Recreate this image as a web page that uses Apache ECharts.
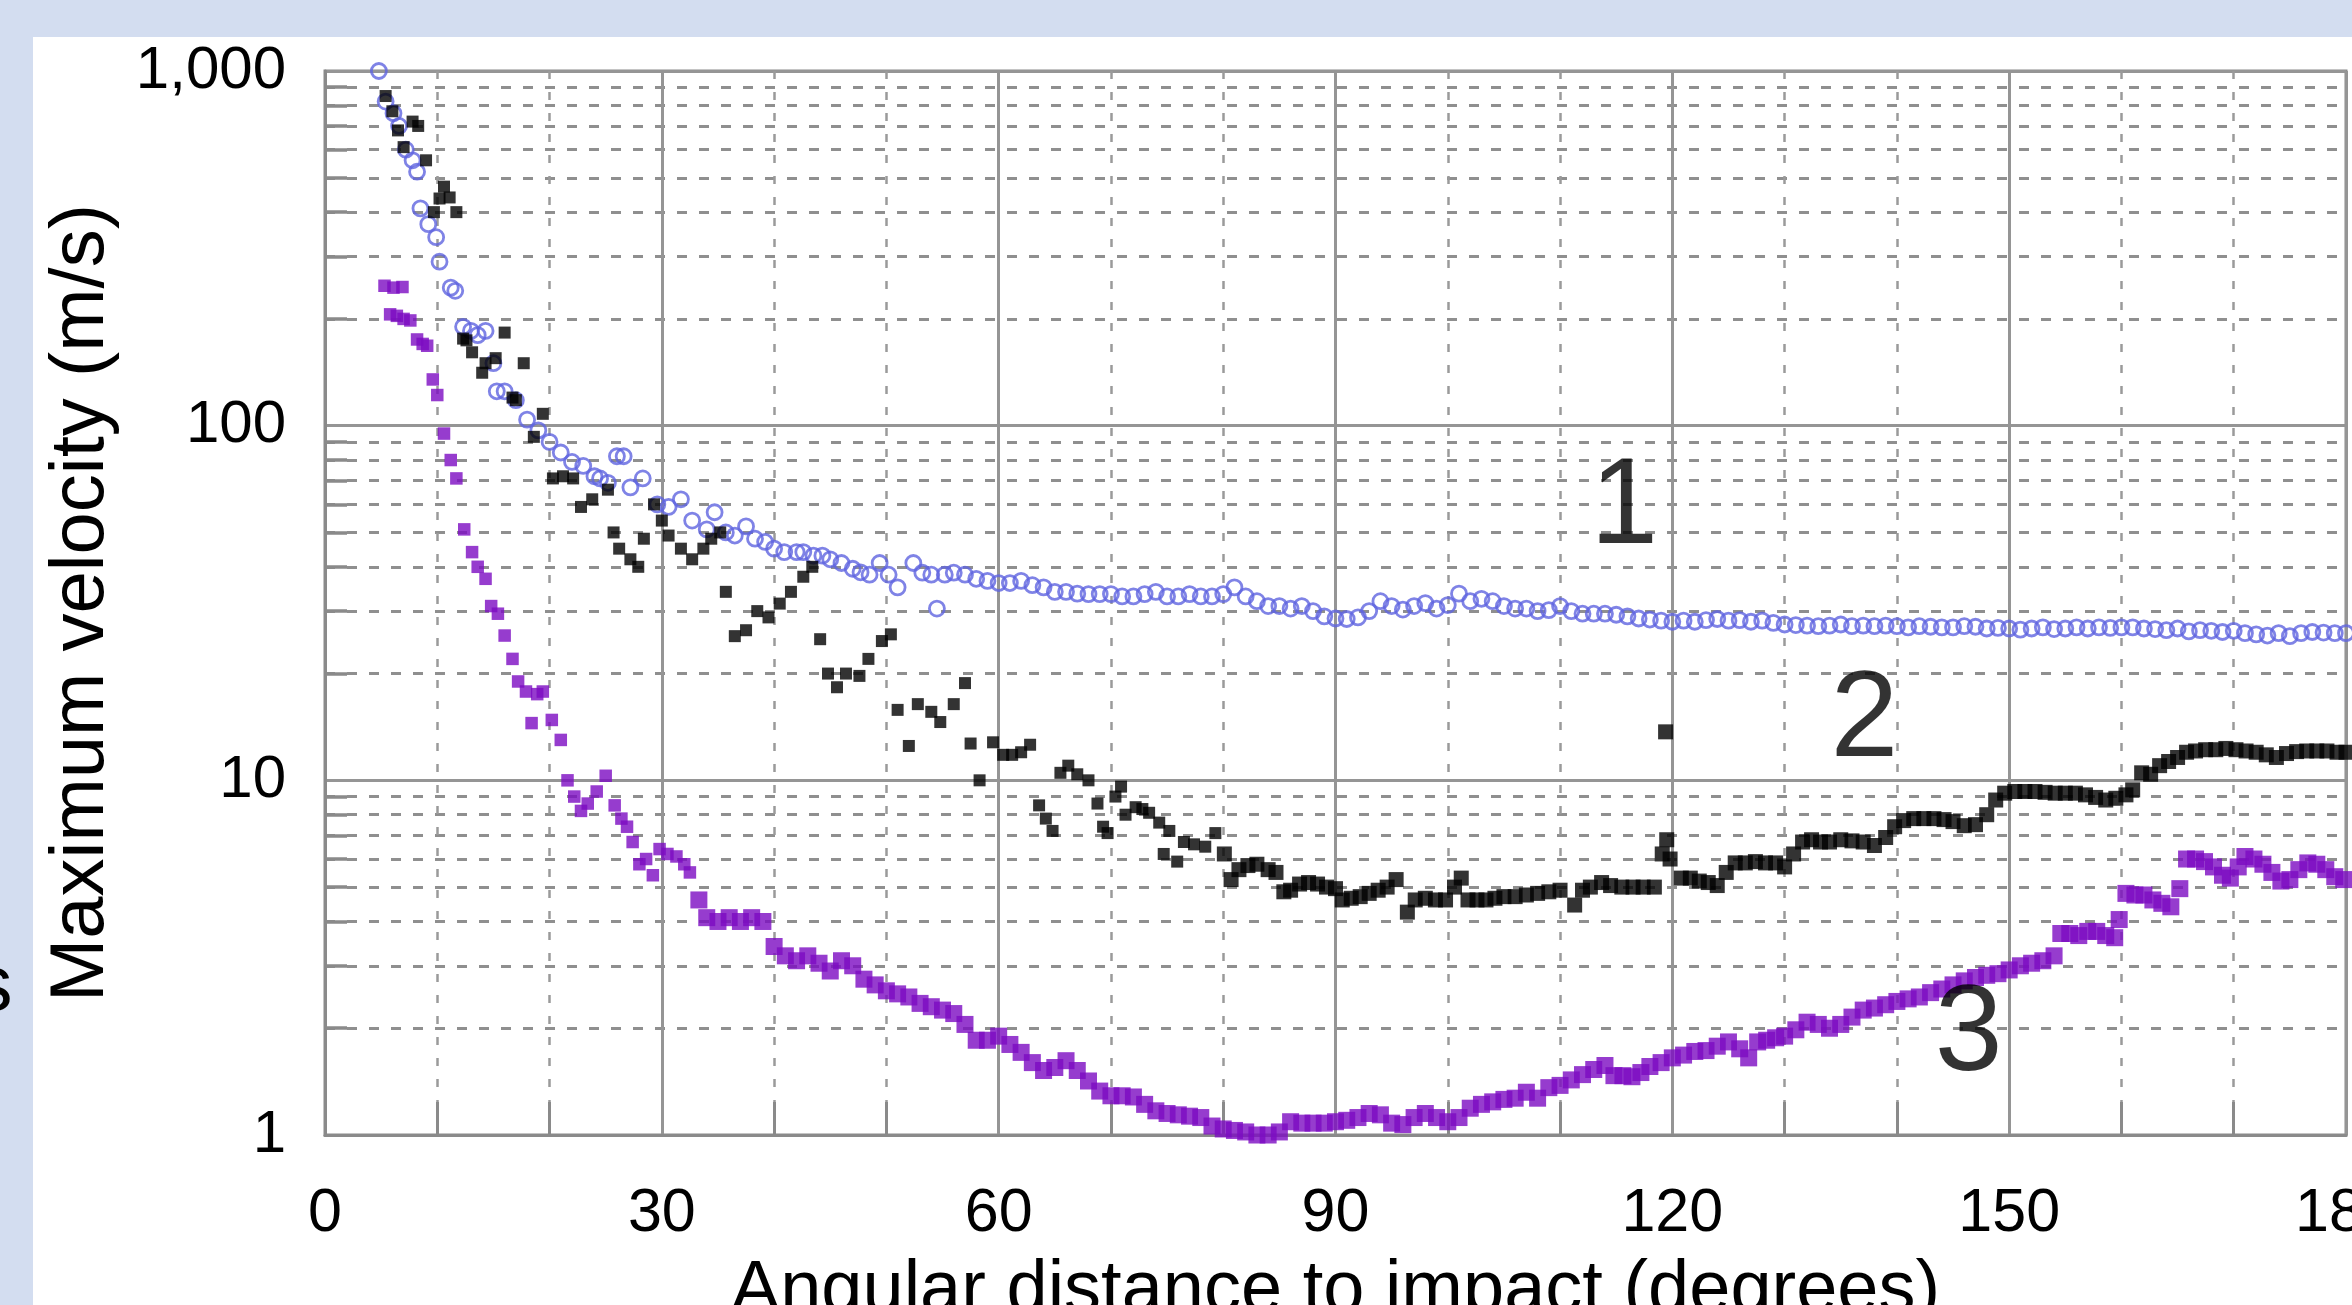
<!DOCTYPE html>
<html><head><meta charset="utf-8">
<script src="https://cdn.jsdelivr.net/npm/echarts@6/dist/echarts.min.js"></script>
<style>
html,body{margin:0;padding:0;width:2352px;height:1305px;overflow:hidden;background:#d3ddf0;}
#panel{position:absolute;left:33px;top:37px;right:0;bottom:0;background:#ffffff;}
#chart{position:absolute;left:0;top:0;width:2352px;height:1305px;}
</style></head>
<body><div id="panel"></div><div id="chart"></div>
<script>
// ---- axis ticks / labels ----
const xTickLabels = ['0', '30', '60', '90', '120', '150', '180'];
const yTickValues = [1, 10, 100, 1000];
const yTickLabels = ['1', '10', '100', '1,000'];
const xAxisTitle = 'Angular distance to impact (degrees)';
const yAxisTitle = 'Maximum velocity (m/s)';

// ---- series 1 (blue open circles): [degrees, m/s] ----
const series1Points = [
[4.8,1000],[5.4,820],[6.1,760],[6.6,700],[7.2,600],[7.8,560],[8.2,520],[8.5,410],[9.2,370],[9.9,340],[10.2,290],
[11.2,245],[11.6,240],[12.3,190],[13.0,185],[13.6,180],[14.3,185],[15.0,150],[15.3,125],[16.0,125],[17.0,118],
[18.0,104],[19.0,97],[20.0,90],[21.0,84],[22.0,79],[23.0,77],[24.0,72],[24.5,71],[25.2,69],[26.0,82],[26.6,82],
[27.2,67],[28.3,71],[29.6,60],[30.6,59],[31.7,62],[32.7,54],[34.0,51],[34.7,57],[35.7,50],[36.5,49],[37.5,52],
[38.3,48],[39.2,47],[40.0,45],[40.9,44],[42.0,44],[42.6,44],[43.5,43],[44.3,43],[45.0,42],[46.0,41],[47.0,39.5],
[47.7,38.6],[48.5,38],[49.4,41],[50.2,38],[51.0,35],[52.4,41],[53.2,38.5],[54.0,38],[54.5,30.5],[55.2,38],[56.0,38.5],
[57.0,38],[58.0,37],[59.0,36.5],[60.0,36],[61.0,36],[62.0,36.5],[63.0,35.5],[64.0,35],[65.0,34],[66.0,34],[67.0,33.6],
[68.0,33.5],[69.0,33.5],[70.0,33.5],[71.0,33],[72.0,33],[73.0,33.5],[74.0,34],[75.0,33],[76.0,33],[77.0,33.5],
[78.0,33],[79.0,33],[80.0,33.5],[81.0,35],[82.0,33],[83.0,32],[84.0,31],[85.0,31],[86.0,30.5],[87.0,31],[88.0,30],
[89.0,29],[90.0,28.6],[91.0,28.5],[92.0,28.8],[93.0,30],[94.0,32],[95.0,31],[96.0,30.3],[97.0,31],[98.0,31.6],
[99.0,30.5],[100.0,31.2],[101.0,33.6],[102.0,32],[103.0,32.5],[104.0,32],[105.0,31],[106.0,30.5],[107.0,30.5],
[108.0,30],[109.0,30.2],[110.0,31],[111.0,30],[112.0,29.5],[113.0,29.5],[114.0,29.5],[115.0,29.3],[116.0,29],
[117.0,28.6],[118.0,28.4],[119.0,28.2],[120.0,28],[121.0,28.2],[122.0,28],[123.0,28.3],[124.0,28.5],[125.0,28.2],
[126.0,28.3],[127.0,28],[128.0,28.2],[129.0,27.8],[130.0,27.5],[131.0,27.4],[132.0,27.3],[133.0,27.2],[134.0,27.3],
[135.0,27.5],[136.0,27.2],[137.0,27.3],[138.0,27.2],[139.0,27.3],[140.0,27.2],[141.0,27],[142.0,27.2],[143.0,27.1],
[144.0,27],[145.0,27],[146.0,27.2],[147.0,27.1],[148.0,26.8],[149.0,26.9],[150.0,26.8],[151.0,26.6],[152.0,26.8],
[153.0,27],[154.0,26.7],[155.0,26.8],[156.0,27],[157.0,26.8],[158.0,27],[159.0,26.9],[160.0,27],[161.0,27],
[162.0,26.8],[163.0,26.7],[164.0,26.5],[165.0,26.8],[166.0,26.3],[167.0,26.5],[168.0,26.4],[169.0,26.2],[170.0,26.4],
[171.0,26],[172.0,25.8],[173.0,25.6],[174.0,26],[175.0,25.5],[176.0,26],[177.0,26.2],[178.0,26.1],[179.0,26],[180.0,26]
];

// ---- series 2 (black dots) ----
const series2Points = [
[5.4,850],[6.0,770],[6.5,680],[7.0,610],[7.8,720],[8.3,700],[9.0,560],[9.7,400],[10.2,437],[10.6,472],[11.1,440],
[11.7,400],[12.3,176],[12.6,174],[13.1,161],[14.0,141],[14.3,150],[15.2,155],[16.0,183],[16.7,120],[17.0,118],
[17.7,150],[18.6,93],[19.4,108],[20.3,71],[21.2,72],[22.1,71],[22.8,59],[23.8,62],[25.2,66],[25.7,50],[26.2,45],
[27.2,42],[27.9,40],[28.4,48],[29.3,60],[30.0,54],[30.6,49],[31.7,45],[32.7,42],[33.7,45],[34.4,48],[35.2,50],
[35.7,34],[36.5,25.5],[37.5,26.5],[38.5,30],[39.5,28.8],[40.5,31.5],[41.5,34],[42.6,37.5],[43.4,40],[44.1,25],
[44.8,20],[45.6,18.3],[46.4,20],[47.6,19.7],[48.4,22],[49.6,24.7],[50.4,25.8],[51.0,15.8],[52.0,12.5],[52.8,16.4],
[54.0,15.6],[54.8,14.6],[56.0,16.4],[57.0,18.8],[57.5,12.7],[58.3,10],[59.5,12.8],[60.4,11.8],[61.2,11.8],[62.0,12.0],
[62.8,12.6],[63.6,8.5],[64.2,7.8],[64.8,7.2],[65.5,10.5],[66.2,11],[67.0,10.4],[68.0,10],[68.8,8.6],[69.3,7.4],[69.7,7.1],
[70.4,9.0],[70.9,9.6],[71.3,8.0],[72.2,8.4],[72.8,8.3],[73.4,8.1],[74.3,7.6],[74.7,6.2],[75.2,7.2],[75.9,5.9],
[76.5,6.7],[77.4,6.6],[78.4,6.5],[79.3,7.1],[80.1,6.2],[80.7,5.25],[81.4,5.6],[82.2,5.75],[83.0,5.8],[84.0,5.6],
[84.7,5.5],[85.4,4.85],[86.0,4.9],[86.8,5.1],[87.6,5.15],[88.4,5.1],[89.2,5.0],[90.0,4.95],[90.6,4.6],[91.4,4.65],
[92.2,4.7],[93.0,4.8],[93.8,4.9],[94.6,5.0],[95.4,5.25],[96.4,4.25],[97.1,4.6],[98.0,4.65],[98.9,4.6],[99.8,4.6],
[100.6,5.0],[101.2,5.3],[101.8,4.6],[102.6,4.6],[103.4,4.6],[104.2,4.65],[105.0,4.7],[106.0,4.7],[107.0,4.75],
[108.0,4.8],[109.0,4.85],[110.0,4.9],[111.3,4.45],[112.0,4.9],[112.7,5.0],[113.7,5.15],[114.5,5.05],[115.5,5.0],
[116.5,5.0],[117.4,5.0],[118.4,5.0],[119.1,6.2],[119.4,13.7],[119.5,6.8],[119.8,6.0],[120.8,5.3],[121.6,5.3],
[122.4,5.2],[123.2,5.15],[124.0,5.05],[124.8,5.5],[125.6,5.85],[126.5,5.85],[127.4,5.9],[128.3,5.85],[129.2,5.85],
[130.0,5.7],[130.8,6.2],[131.6,6.7],[132.4,6.8],[133.2,6.7],[134.0,6.7],[135.0,6.8],[136.0,6.75],[137.0,6.7],
[138.0,6.55],[139.0,6.9],[139.8,7.4],[140.6,7.7],[141.5,7.8],[142.4,7.8],[143.3,7.8],[144.2,7.75],[145.0,7.65],
[146.0,7.45],[147.0,7.5],[148.0,8.0],[148.8,8.8],[149.6,9.2],[150.5,9.3],[151.4,9.3],[152.3,9.3],[153.2,9.25],
[154.1,9.2],[155.0,9.2],[155.9,9.2],[156.8,9.1],[157.7,8.95],[158.6,8.8],[159.5,8.9],[160.4,9.1],[161.0,9.4],
[161.8,10.5],[162.6,10.4],[163.4,11.0],[164.2,11.3],[165.0,11.6],[165.8,12.0],[166.6,12.1],[167.5,12.2],[168.4,12.2],
[169.3,12.3],[170.2,12.2],[171.1,12.1],[172.0,12.0],[172.9,11.8],[173.8,11.6],[174.7,11.9],[175.6,12.05],[176.5,12.1],
[177.4,12.1],[178.3,12.1],[179.2,12.0],[180.0,12.0]
];

// ---- series 3 (purple dots) ----
const series3Points = [
[5.3,248],[6.1,245],[6.9,246],[5.8,206],[6.4,204],[7.0,200],[7.6,198],[8.2,175],[8.7,170],[9.1,168],[9.6,135],
[10.0,122],[10.6,95],[11.2,80],[11.7,71],[12.4,51],[13.1,44],[13.6,40],[14.3,37],[14.8,31],[15.4,29.5],[16.0,25.6],
[16.7,22],[17.2,19],[17.9,17.8],[18.4,14.5],[18.9,17.5],[19.4,17.8],[20.2,14.8],[21.0,13],[21.6,10],[22.2,9.0],
[22.8,8.2],[23.4,8.6],[24.2,9.3],[25.0,10.3],[25.8,8.5],[26.4,7.8],[26.9,7.4],[27.4,6.7],[28.0,5.8],[28.6,6.0],
[29.2,5.4],[29.8,6.4],[30.5,6.2],[31.3,6.1],[32.0,5.8],[32.5,5.5],[33.3,4.6],[34.0,4.1],[35.0,4.0],[36.0,4.1],
[37.0,4.0],[38.0,4.1],[39.0,4.0],[40.0,3.4],[41.0,3.2],[42.0,3.1],[43.0,3.2],[44.0,3.05],[45.0,2.9],[46.0,3.1],
[47.0,3.0],[48.0,2.75],[49.0,2.65],[50.0,2.55],[51.0,2.5],[52.0,2.45],[53.0,2.35],[54.0,2.3],[55.0,2.25],[56.0,2.2],
[57.0,2.05],[58.0,1.85],[59.0,1.85],[60.0,1.9],[61.0,1.8],[62.0,1.71],[63.0,1.6],[64.0,1.52],[65.0,1.55],[66.0,1.62],
[67.0,1.52],[68.0,1.42],[69.0,1.33],[70.0,1.29],[71.0,1.29],[72.0,1.28],[73.0,1.22],[74.0,1.17],[75.0,1.15],[76.0,1.14],
[77.0,1.13],[78.0,1.12],[79.0,1.06],[80.0,1.04],[81.0,1.03],[82.0,1.02],[83.0,1.0],[84.0,1.0],[85.0,1.02],[86.0,1.09],
[87.0,1.08],[88.0,1.08],[89.0,1.08],[90.0,1.09],[91.0,1.1],[92.0,1.12],[93.0,1.15],[94.0,1.14],[95.0,1.08],[96.0,1.07],
[97.0,1.12],[98.0,1.15],[99.0,1.12],[100.0,1.09],[101.0,1.12],[102.0,1.19],[103.0,1.22],[104.0,1.24],[105.0,1.26],
[106.0,1.27],[107.0,1.32],[108.0,1.27],[109.0,1.36],[110.0,1.38],[111.0,1.43],[112.0,1.48],[113.0,1.53],[114.0,1.57],
[114.8,1.47],[115.6,1.47],[116.4,1.46],[117.2,1.5],[118.0,1.56],[119.0,1.6],[120.0,1.65],[121.0,1.68],[122.0,1.72],
[123.0,1.73],[124.0,1.78],[125.0,1.83],[126.0,1.75],[126.8,1.65],[127.6,1.83],[128.4,1.85],[129.2,1.88],[130.0,1.9],
[131.0,1.98],[132.0,2.08],[133.0,2.05],[134.0,2.0],[135.0,2.05],[136.0,2.15],[137.0,2.25],[138.0,2.28],[139.0,2.33],
[140.0,2.38],[141.0,2.42],[142.0,2.45],[143.0,2.52],[144.0,2.58],[145.0,2.65],[146.0,2.72],[147.0,2.78],[148.0,2.82],
[149.0,2.85],[150.0,2.92],[151.0,3.0],[152.0,3.05],[153.0,3.1],[154.0,3.2],[154.6,3.7],[155.4,3.7],[156.2,3.65],
[157.0,3.75],[157.8,3.75],[158.6,3.65],[159.4,3.6],[159.8,4.05],[160.4,4.8],[161.2,4.75],[162.0,4.75],[162.8,4.6],
[163.6,4.5],[164.4,4.4],[165.2,4.95],[165.8,6.0],[166.6,6.0],[167.4,5.9],[168.2,5.7],[169.0,5.4],[169.7,5.3],
[170.4,5.7],[171.0,6.1],[171.8,6.0],[172.6,5.8],[173.4,5.5],[174.2,5.2],[175.0,5.25],[175.8,5.6],[176.6,5.85],
[177.4,5.8],[178.2,5.6],[179.0,5.35],[179.8,5.25]
];

// ---- annotation numbers placed at data coordinates ----
const annotationPoints = [[115.7, 58, '1'], [137.1, 14.6, '2'], [146.4, 1.9, '3']];

const FONT = "'Liberation Sans', Arial, sans-serif";
const chart = echarts.init(document.getElementById('chart'), null, {renderer: 'canvas'});
chart.setOption({
  animation: false,
  backgroundColor: 'transparent',
  grid: {left: 325, right: 6, top: 71, bottom: 170, containLabel: false, outerBoundsMode: 'none',
         show: true, borderColor: '#8a8a8a', borderWidth: 3, backgroundColor: 'transparent'},
  xAxis: {
    type: 'value', min: 0, max: 180, interval: 30,
    name: xAxisTitle, nameLocation: 'middle', nameGap: 120,
    nameTextStyle: {fontFamily: FONT, fontSize: 74, color: '#000', lineHeight: 74},
    axisLine: {show: true, lineStyle: {color: '#8a8a8a', width: 3}},
    axisTick: {show: false},
    minorTick: {show: true, splitNumber: 3, length: -33, lineStyle: {color: '#8a8a8a', width: 3}},
    axisLabel: {fontFamily: FONT, fontSize: 61, color: '#000', margin: 49, lineHeight: 61, hideOverlap: false,
      formatter: function (v) { return xTickLabels[Math.round(v / 30)]; }},
    splitLine: {show: true, lineStyle: {color: '#959595', width: 3}},
    minorSplitLine: {show: true, lineStyle: {color: '#9a9a9a', width: 2.5, type: [8, 13]}}
  },
  yAxis: {
    type: 'log', logBase: 10, min: 1, max: 1000,
    name: yAxisTitle, nameLocation: 'middle', nameGap: 205, nameRotate: 90,
    nameTextStyle: {fontFamily: FONT, fontSize: 76, color: '#000', lineHeight: 76},
    axisLine: {show: true, lineStyle: {color: '#8a8a8a', width: 3}},
    axisTick: {show: false},
    minorTick: {show: true, splitNumber: 9, length: -22, lineStyle: {color: '#8a8a8a', width: 3.5}},
    axisLabel: {fontFamily: FONT, fontSize: 60, color: '#000', margin: 39,
      formatter: function (v) { const i = yTickValues.indexOf(Math.round(v)); return i >= 0 ? yTickLabels[i] : ''; }},
    splitLine: {show: true, lineStyle: {color: '#959595', width: 3}},
    minorSplitLine: {show: true, lineStyle: {color: '#8f8f8f', width: 3.2, type: [10, 12]}}
  },
  series: [
    {type: 'scatter', name: '1', data: series1Points, symbol: 'circle', symbolSize: 15, z: 3,
     itemStyle: {color: 'rgba(0,0,0,0)', borderColor: '#5f64e0', borderWidth: 2.8}},
    {type: 'scatter', name: '2', data: series2Points, symbol: 'rect', z: 4,
     symbolSize: function (v) { return v[0] < 80 ? 12 : 15; },
     itemStyle: {color: '#000000'}},
    {type: 'scatter', name: '3', data: series3Points, symbol: 'rect', z: 4,
     symbolSize: function (v) { return v[0] < 33 ? 12.5 : 17; },
     itemStyle: {color: '#7c0bc2'}},
    {type: 'scatter', name: 'labels', data: annotationPoints, symbolSize: 0, z: 6, silent: true,
     label: {show: true, position: 'inside', fontFamily: FONT, fontSize: 122, color: '#000',
       formatter: function (p) { return p.value[2]; }}}
  ],
  graphic: [
    {type: 'text', left: -26, top: 950, silent: true,
     style: {text: 's', font: "77px " + FONT, fill: '#000'}}
  ]
});
</script></body></html>
